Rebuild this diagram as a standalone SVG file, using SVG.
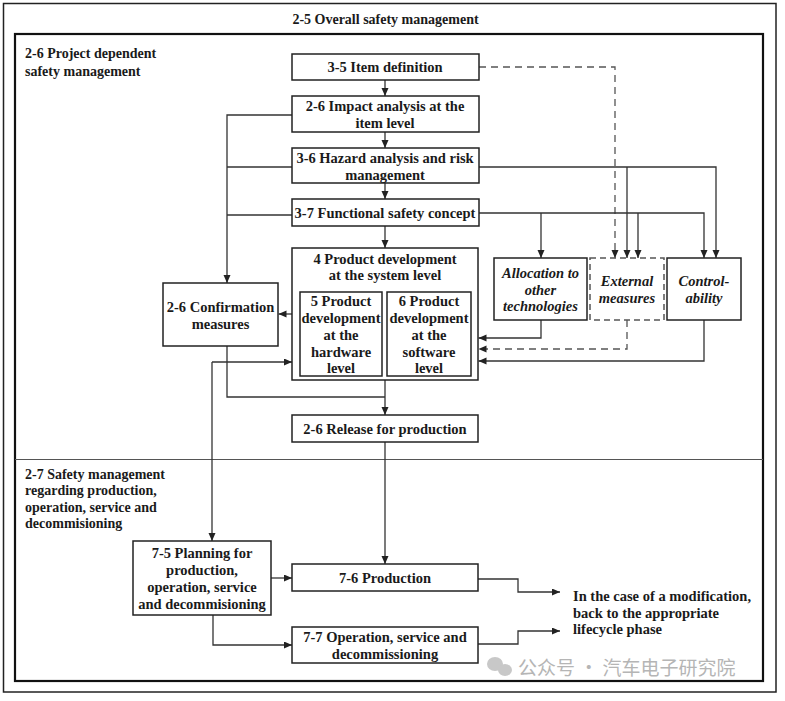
<svg xmlns="http://www.w3.org/2000/svg" width="785" height="701" viewBox="0 0 785 701">
<style>
text{font-family:"Liberation Serif","Times New Roman",serif;font-weight:bold;font-size:14.5px;fill:#1a1a1a}
.s{font-size:14px}
.c{text-anchor:middle}
.i{font-style:italic}
.box{fill:#fff;stroke:#222;stroke-width:1.5}
.dbox{fill:#fff;stroke:#555;stroke-width:1.5;stroke-dasharray:6,4}
.ln{fill:none;stroke:#333;stroke-width:1.3}
.dl{fill:none;stroke:#555;stroke-width:1.3;stroke-dasharray:7,5}
.wm{font-family:"Noto Sans CJK SC","Noto Sans",sans-serif;font-weight:normal;font-size:19px;fill:#b5b5b5}
</style>
<defs>
<marker id="ah" markerUnits="userSpaceOnUse" markerWidth="8" markerHeight="8" refX="8" refY="3.5" orient="auto">
<path d="M0,0 L8,3.5 L0,7 z" fill="#222"/>
</marker>
</defs>
<rect width="785" height="701" fill="#fff"/>
<g id="frame">
<rect x="3.5" y="3.5" width="772.5" height="688.5" fill="none" stroke="#222" stroke-width="1.5"/>
<rect x="15" y="34" width="748" height="647" fill="none" stroke="#111" stroke-width="2.2"/>
<line x1="15" y1="459.5" x2="763" y2="459.5" stroke="#555" stroke-width="1"/>
<text class="c s" x="385.5" y="24">2-5 Overall safety management</text>
<text class="s" x="25" y="58">2-6 Project dependent</text>
<text class="s" x="25" y="75.5">safety management</text>
<text class="s" x="25" y="478.5">2-7 Safety management</text>
<text class="s" x="25" y="495">regarding production,</text>
<text class="s" x="25" y="511.5">operation, service and</text>
<text class="s" x="25" y="528">decommisioning</text>
</g>
<g id="connectors">
<path class="ln" d="M385,80 V96" marker-end="url(#ah)"/>
<path class="ln" d="M385,132 V148" marker-end="url(#ah)"/>
<path class="ln" d="M385,183 V199" marker-end="url(#ah)"/>
<path class="ln" d="M385,226 V248" marker-end="url(#ah)"/>
<path class="ln" d="M292,115 H227 V283" marker-end="url(#ah)"/>
<path class="ln" d="M292,167 H227"/>
<path class="ln" d="M292,215 H227"/>
<path class="ln" d="M292,314 H278.5" marker-end="url(#ah)"/>
<path class="ln" d="M227,346 V397 H385"/>
<path class="ln" d="M385,380 V415" marker-end="url(#ah)"/>
<path class="ln" d="M212,362 H292" marker-end="url(#ah)"/>
<path class="ln" d="M212,362 V541" marker-end="url(#ah)"/>
<path class="dl" d="M479,67 H615 V258" marker-end="url(#ah)"/>
<path class="ln" d="M479,167 H716 V258" marker-end="url(#ah)"/>
<path class="ln" d="M627,167 V258" marker-end="url(#ah)"/>
<path class="ln" d="M479,213 H704 V258" marker-end="url(#ah)"/>
<path class="ln" d="M541,213 V258" marker-end="url(#ah)"/>
<path class="ln" d="M638,213 V258" marker-end="url(#ah)"/>
<path class="ln" d="M541,320 V338 H478.5" marker-end="url(#ah)"/>
<path class="dl" d="M627,320 V349 H478.5" marker-end="url(#ah)"/>
<path class="ln" d="M704,320 V361 H478.5" marker-end="url(#ah)"/>
<path class="ln" d="M385,442 V564" marker-end="url(#ah)"/>
<path class="ln" d="M271,578 H292" marker-end="url(#ah)"/>
<path class="ln" d="M213,615 V645 H292" marker-end="url(#ah)"/>
<path class="ln" d="M478,579 H518 V592 H560" marker-end="url(#ah)"/>
<path class="ln" d="M478,644 H518 V631 H560" marker-end="url(#ah)"/>
</g>
<g id="item-definition">
<rect class="box" x="292" y="54" width="187" height="26"/>
<text class="c" x="385" y="72">3-5 Item definition</text>
</g>
<g id="impact-analysis">
<rect class="box" x="292" y="96" width="187" height="36"/>
<text class="c" x="385" y="111">2-6 Impact analysis at the</text>
<text class="c" x="385" y="127.5">item level</text>
</g>
<g id="hazard-analysis">
<rect class="box" x="292" y="148" width="187" height="35"/>
<text class="c" x="385" y="163">3-6 Hazard analysis and risk</text>
<text class="c" x="385" y="179.5">management</text>
</g>
<g id="functional-safety-concept">
<rect class="box" x="292" y="199" width="187" height="27"/>
<text class="c" x="385" y="218">3-7 Functional safety concept</text>
</g>
<g id="system-level">
<rect class="box" x="292" y="248" width="186" height="132"/>
<text class="c" x="385" y="263.5">4 Product development</text>
<text class="c" x="385" y="280">at the system level</text>
</g>
<g id="hardware-level">
<rect class="box" x="300" y="292" width="82" height="84"/>
<text class="c" x="341" y="306">5 Product</text>
<text class="c" x="341" y="322.5">development</text>
<text class="c" x="341" y="339.5">at the</text>
<text class="c" x="341" y="356.5">hardware</text>
<text class="c" x="341" y="373">level</text>
</g>
<g id="software-level">
<rect class="box" x="387" y="292" width="84" height="84"/>
<text class="c" x="429" y="306">6 Product</text>
<text class="c" x="429" y="322.5">development</text>
<text class="c" x="429" y="339.5">at the</text>
<text class="c" x="429" y="356.5">software</text>
<text class="c" x="429" y="373">level</text>
</g>
<g id="confirmation-measures">
<rect class="box" x="163" y="283" width="115" height="63"/>
<text class="c" x="220.5" y="312">2-6 Confirmation</text>
<text class="c" x="220.5" y="328.5">measures</text>
</g>
<g id="allocation">
<rect class="box" x="494" y="258" width="93" height="62"/>
<text class="c i" x="540.5" y="278">Allocation to</text>
<text class="c i" x="540.5" y="294.5">other</text>
<text class="c i" x="540.5" y="311">technologies</text>
</g>
<g id="external-measures">
<rect class="dbox" x="590" y="258" width="74" height="62"/>
<text class="c i" x="627" y="286">External</text>
<text class="c i" x="627" y="302.5">measures</text>
</g>
<g id="controllability">
<rect class="box" x="667" y="258" width="74" height="62"/>
<text class="c i" x="704" y="286">Control-</text>
<text class="c i" x="704" y="302.5">ability</text>
</g>
<g id="release-for-production">
<rect class="box" x="292" y="415" width="186" height="27"/>
<text class="c" x="385" y="434">2-6 Release for production</text>
</g>
<g id="planning">
<rect class="box" x="133" y="541" width="138" height="74"/>
<text class="c" x="202" y="558">7-5 Planning for</text>
<text class="c" x="202" y="575">production,</text>
<text class="c" x="202" y="592">operation, service</text>
<text class="c" x="202" y="609">and decommisioning</text>
</g>
<g id="production">
<rect class="box" x="292" y="564" width="186" height="27"/>
<text class="c" x="385" y="583">7-6 Production</text>
</g>
<g id="operation">
<rect class="box" x="292" y="627" width="186" height="36"/>
<text class="c" x="385" y="642">7-7 Operation, service and</text>
<text class="c" x="385" y="658.5">decommissioning</text>
</g>
<g id="modification-note">
<text x="573" y="601">In the case of a modification,</text>
<text x="573" y="617.5">back to the appropriate</text>
<text x="573" y="634">lifecycle phase</text>
</g>
<g id="watermark">
<ellipse cx="495" cy="664" rx="8" ry="7" fill="#c8c8c8"/>
<ellipse cx="505" cy="670" rx="7" ry="6" fill="#c8c8c8"/>
<text class="wm" x="518" y="675">公众号 · 汽车电子研究院</text>
</g>
</svg>
